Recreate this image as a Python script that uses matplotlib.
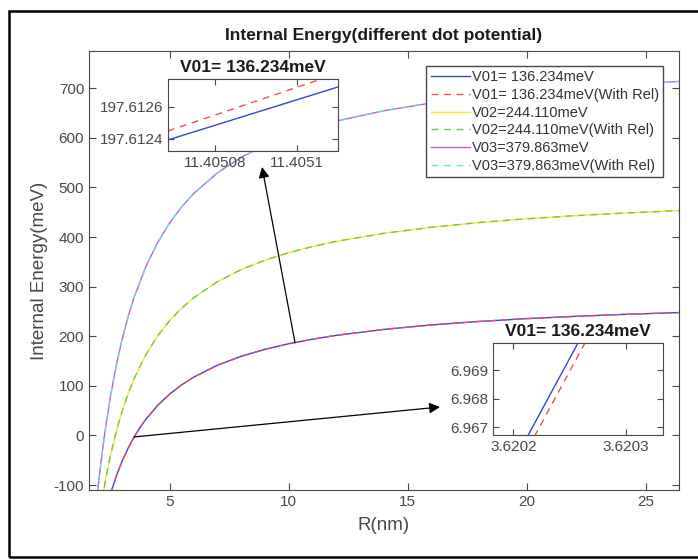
import numpy as np
import matplotlib
matplotlib.use('Agg')
import matplotlib.pyplot as plt
from matplotlib.patches import Rectangle

plt.rcParams['font.family'] = ['Liberation Sans', 'DejaVu Sans']
plt.rcParams['axes.unicode_minus'] = False

# values (R in nm, E in meV)
r_v01 = [2.5, 2.75, 3.0, 3.25, 3.5, 3.75, 4.0, 4.5, 5, 5.5, 6, 7, 8, 9, 10, 11, 12, 14, 16, 18, 20, 22, 24, 26.4]
e_v01 = [-118.4, -81.6, -51.0, -25.1, -2.9, 16.4, 33.3, 61.3, 83.8, 102.2, 117.5, 141.6, 159.6, 173.7,
         184.9, 194.1, 201.8, 213.8, 222.8, 229.8, 235.5, 240.0, 243.9, 247.7]
r_v02 = [2.15, 2.3, 2.5, 2.75, 3.0, 3.25, 3.5, 4.0, 4.5, 5, 5.5, 6, 7, 8, 9, 10, 11, 12, 14, 16, 18, 20, 22, 24, 26.4]
e_v02 = [-129.9, -88.5, -41.0, 8.6, 50.0, 85.0, 115.0, 163.8, 201.7, 232.0, 256.8, 277.5, 310.0, 334.4,
         353.3, 368.5, 380.9, 391.3, 407.5, 419.7, 429.2, 436.8, 443.0, 448.1, 453.3]
r_v03 = [1.9, 2.0, 2.1, 2.25, 2.5, 2.75, 3.0, 3.25, 3.5, 4.0, 4.5, 5, 5.5, 6, 7, 8, 9, 10, 11, 12, 14, 16,
         18, 20, 22, 24, 26.4]
e_v03 = [-143.2, -97.0, -55.2, 0.4, 78.4, 142.2, 195.3, 240.3, 278.9, 341.5, 390.2, 429.2, 461.1, 487.7,
         529.4, 560.8, 585.1, 604.6, 620.5, 633.8, 654.7, 670.4, 682.6, 692.3, 700.3, 706.9, 713.6]

# zoomed windows
z1_r = [11.4050685, 11.40511]
z1_e = [197.612394, 197.612725]
z1_e_rel = [197.61245, 197.61281]
z2_r = [3.6202073, 3.6202635]
z2_r_rel = [3.6202135, 3.6202697]
z2_e = [6.96628, 6.97039]

labels = ['V01= 136.234meV', 'V01= 136.234meV(With Rel)', 'V02=244.110meV',
          'V02=244.110meV(With Rel)', 'V03=379.863meV', 'V03=379.863meV(With Rel)']

gray = '#484848'
c_b, c_r, c_y, c_g, c_m, c_c = '#3048d0', '#f05050', '#f2ea28', '#70c850', '#c060c8', '#70d8e0'

fig = plt.figure(figsize=(6.98, 5.6), dpi=100)
ax = fig.add_axes([0.1275, 0.125, 0.8453, 0.7839])

ax.plot(r_v01, e_v01, color=c_b, lw=1.0, label=labels[0])
ax.plot(r_v01, e_v01, color=c_r, lw=1.0, ls=(0, (5, 4)), label=labels[1])
ax.plot(r_v02, e_v02, color=c_y, lw=1.0, label=labels[2])
ax.plot(r_v02, e_v02, color=c_g, lw=1.0, ls=(0, (5, 4)), label=labels[3])
ax.plot(r_v03, e_v03, color=c_m, lw=1.0, label=labels[4])
ax.plot(r_v03, e_v03, color=c_c, lw=1.0, ls=(0, (5, 4)), label=labels[5])

ax.set_xlim(1.6, 26.4)
ax.set_ylim(-110, 775)
ax.set_xticks([5, 10, 15, 20, 25])
ax.set_yticks([-100, 0, 100, 200, 300, 400, 500, 600, 700])
ax.tick_params(direction='in', top=True, right=True, labelsize=11, colors=gray, length=5)
for s in ax.spines.values():
    s.set_color(gray)
ax.set_xlabel('R(nm)', fontsize=13.5, color=gray, labelpad=6)
ax.set_ylabel('Internal Energy(meV)', fontsize=13.5, color=gray, labelpad=4)
ax.set_title('Internal Energy(different dot potential)', fontsize=12.5, fontweight='bold',
             color='#1a1a1a', pad=8)

leg = ax.legend(loc='upper right', bbox_to_anchor=(0.9729, 0.9658), borderaxespad=0,
                fontsize=10.5, labelspacing=0.25, handlelength=2.7, handletextpad=0.1,
                borderpad=0.3, fancybox=False, framealpha=1)
leg.get_frame().set_edgecolor(gray)
for t in leg.get_texts():
    t.set_color('#333333')

# arrows from the curve to the zoom windows
ax.annotate('', xy=(0.3754, 0.7018), xycoords='figure fraction', xytext=(10.26, 187),
            textcoords='data', arrowprops=dict(arrowstyle='-|>', color='black', lw=0.9,
                                               mutation_scale=16, shrinkA=0, shrinkB=0))
ax.annotate('', xy=(0.6304, 0.2732), xycoords='figure fraction', xytext=(3.5, -3),
            textcoords='data', arrowprops=dict(arrowstyle='-|>', color='black', lw=0.9,
                                               mutation_scale=16, shrinkA=0, shrinkB=0))

# inset 1
a1 = fig.add_axes([0.2407, 0.7304, 0.2436, 0.1286])
a1.plot(z1_r, z1_e, color=c_b, lw=1.0)
a1.plot(z1_r, z1_e_rel, color=c_r, lw=1.0, ls=(0, (5, 4)))
a1.set_xlim(11.4050685, 11.40511)
a1.set_ylim(197.612325, 197.612775)
a1.set_xticks([11.40508, 11.4051])
a1.set_xticklabels(['11.40508', '11.4051'])
a1.set_yticks([197.6124, 197.6126])
a1.set_yticklabels(['197.6124', '197.6126'])
a1.set_title('V01= 136.234meV', fontsize=12.5, fontweight='bold', color='#1a1a1a', pad=5)

# inset 2
a2 = fig.add_axes([0.7063, 0.2232, 0.2436, 0.1643])
a2.plot(z2_r, z2_e, color=c_b, lw=1.0)
a2.plot(z2_r_rel, z2_e, color=c_r, lw=1.0, ls=(0, (5, 4)))
a2.set_xlim(3.620182, 3.620333)
a2.set_ylim(6.96672, 6.96995)
a2.set_xticks([3.6202, 3.6203])
a2.set_xticklabels(['3.6202', '3.6203'])
a2.set_yticks([6.967, 6.968, 6.969])
a2.set_yticklabels(['6.967', '6.968', '6.969'])
a2.set_title('V01= 136.234meV', fontsize=12.5, fontweight='bold', color='#1a1a1a', pad=5)

for a in (a1, a2):
    a.tick_params(direction='in', top=True, right=True, labelsize=11, colors=gray, length=4)
    for s in a.spines.values():
        s.set_color(gray)

# outer frame
fig.add_artist(Rectangle((9 / 698, 3 / 560), 1.0, 1 - 14 / 560, transform=fig.transFigure,
                         fill=False, edgecolor='black', lw=1.8))

fig.savefig('out.png', dpi=100)
